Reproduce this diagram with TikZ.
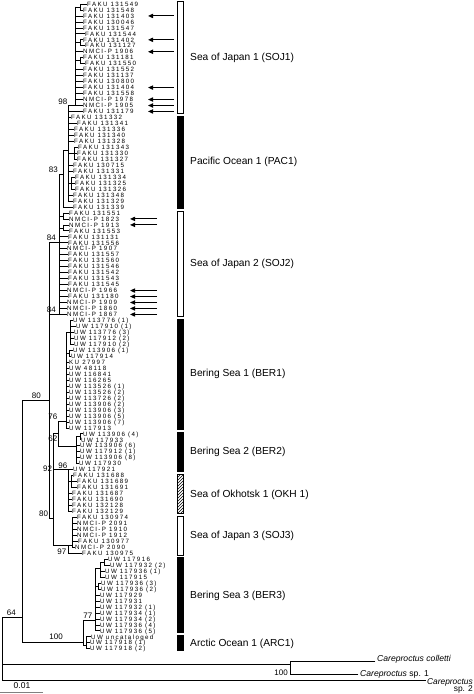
\documentclass[tikz,border=0pt]{standalone}
\usepackage{fontspec}
\setmainfont{Liberation Sans}
\newfontfamily\leaffam{Liberation Sans}[LetterSpace=22]
\usetikzlibrary{arrows.meta,patterns}
\pgfmathdeclarefunction{ly}{1}{\pgfmathparse{4+5.97*#1}}
\begin{document}
\begin{tikzpicture}[x=1pt,y=-1pt,
  br/.style={line width=0.75pt,line cap=rect},
  leaf/.style={anchor=west,inner sep=0pt,font=\leaffam\fontsize{6.2}{6.2}\selectfont,text height=4.4pt,text depth=0pt},
  bs/.style={anchor=south east,inner sep=0pt,font=\fontsize{8}{8}\selectfont},
  clade/.style={anchor=west,inner sep=0pt,font=\fontsize{10.2}{12}\selectfont},
  og/.style={inner sep=0pt,font=\fontsize{8.6}{9}\selectfont},
  bar/.style={draw=black,line width=0.6pt},
  arr/.style={-{Triangle[length=5pt,width=4.2pt]},line width=1.1pt},
]
\useasboundingbox (0,0) rectangle (474,694);

% ---------- leaves ----------
\foreach \i/\lx/\cx/\t in {
0/87/80/FAKU 131549, 1/83/80/FAKU 131548, 2/83/75/FAKU 131403, 3/83/75/FAKU 130046,
4/83/75/FAKU 131547, 5/85/75/FAKU 131544, 6/83/80/FAKU 131402, 7/85/80/FAKU 131127,
8/83/75/NMCI-P 1906, 9/83/80/FAKU 131181, 10/85/80/FAKU 131550, 11/83/75/FAKU 131552,
12/83/75/FAKU 131137, 13/83/75/FAKU 130800, 14/83/75/FAKU 131404, 15/83/75/FAKU 131558,
16/83/75/NMCI-P 1978, 17/83/75/NMCI-P 1905, 18/83/68/FAKU 131179,
19/71/68/FAKU 131332, 20/77/68/FAKU 131341, 21/74/68/FAKU 131336, 22/74/68/FAKU 131340,
23/74/68/FAKU 131328, 24/78/74/FAKU 131343, 25/77/74/FAKU 131330, 26/77/74/FAKU 131327,
27/73/68/FAKU 130715, 28/73/68/FAKU 131331, 29/75/71/FAKU 131334, 30/75/71/FAKU 131325,
31/75/71/FAKU 131326, 32/73/68/FAKU 131348, 33/73/68/FAKU 131329, 34/73/63/FAKU 131339,
35/69/63/FAKU 131551, 36/69/63/NMCI-P 1823, 37/69/63/NMCI-P 1913, 38/69/63/FAKU 131553,
39/68/59/FAKU 131131, 40/68/59/FAKU 131556, 41/67/59/NMCI-P 1907, 42/68/59/FAKU 131557,
43/68/59/FAKU 131560, 44/68/59/FAKU 131546, 45/68/59/FAKU 131542, 46/68/59/FAKU 131543,
47/68/59/FAKU 131545, 48/67/59/NMCI-P 1966, 49/68/59/FAKU 131180, 50/67/59/NMCI-P 1909,
51/67/59/NMCI-P 1860, 52/67/59/NMCI-P 1867,
53/73/70/UW 113776 (1), 54/76/70/UW 117910 (1), 55/74/70/UW 113776 (3), 56/74/70/UW 117912 (2),
57/74/70/UW 117910 (2), 58/73/69/UW 113906 (1), 59/71/69/UW 117914, 60/69/66/KU 27997,
61/69/66/UW 48118, 62/69/66/UW 116841, 63/69/66/UW 116265, 64/69/66/UW 113526 (1),
65/69/66/UW 113526 (2), 66/69/66/UW 113726 (2), 67/69/66/UW 113906 (2), 68/69/66/UW 113906 (3),
69/69/66/UW 113906 (5), 70/69/66/UW 113906 (7), 71/69/66/UW 117913,
72/83/80/UW 113906 (4), 73/81/80/UW 117933, 74/80/76/UW 113906 (6), 75/80/76/UW 117912 (1),
76/80/76/UW 113906 (8), 77/79/76/UW 117930, 78/73/68/UW 117921,
79/73/71/FAKU 131688, 80/77/71/FAKU 131689, 81/77/71/FAKU 131691, 82/72/68/FAKU 131687,
83/72/68/FAKU 131690, 84/72/68/FAKU 132128, 85/72/68/FAKU 132129,
86/77/72/FAKU 130974, 87/77/72/NMCI-P 2091, 88/77/72/NMCI-P 1910, 89/77/72/NMCI-P 1912,
90/78/72/FAKU 130977, 91/75/72/NMCI-P 2090, 92/82/68/FAKU 130975,
93/108/104/UW 117916, 94/110/104/UW 117932 (2), 95/105/100/UW 117936 (1), 96/105/100/UW 117915,
97/101/98/UW 117936 (3), 98/101/98/UW 117936 (2), 99/100/95/UW 117929, 100/100/95/UW 117931,
101/100/95/UW 117932 (1), 102/100/95/UW 117934 (1), 103/100/95/UW 117934 (2),
104/100/95/UW 117936 (4), 105/100/95/UW 117936 (5),
106/91/86/UW uncataloged, 107/90/86/UW 117918 (1), 108/90/86/UW 117918 (2)}{
  \node[leaf] (l\i) at (\lx,{ly(\i)}) {\t};
  \draw[br] (\cx,{ly(\i)}) -- ([xshift=-0.8pt]l\i.west);
}

% ---------- SOJ1 / PAC1 ----------
\draw[br] (75,{ly(0.5)}) -- (75,{ly(17)});
\draw[br] (80,{ly(0)}) -- (80,{ly(1)}) (75,{ly(0.5)}) -- (80,{ly(0.5)});
\draw[br] (80,{ly(6)}) -- (80,{ly(7)}) (75,{ly(6.5)}) -- (80,{ly(6.5)});
\draw[br] (80,{ly(9)}) -- (80,{ly(10)}) (75,{ly(9.5)}) -- (80,{ly(9.5)});
\draw[br] (68,{ly(17)}) -- (75,{ly(17)});
\node[bs] at (67.5,{ly(17)-1}) {98};
\draw[br] (68,{ly(17)}) -- (68,{ly(33)});
\draw[br] (74,{ly(24)}) -- (74,{ly(26)}) (68,{ly(25)}) -- (74,{ly(25)});
\draw[br] (71,{ly(29)}) -- (71,{ly(31)}) (68,{ly(30)}) -- (71,{ly(30)});
\draw[br] (63,150) -- (68,150) (63,150) -- (63,{ly(34)});
\draw[br] (59,174) -- (63,174);
\node[bs] at (58,172.5) {83};

% ---------- SOJ2 ----------
\draw[br] (59,174) -- (59,{ly(52)});
\draw[br] (63,{ly(35)}) -- (63,{ly(36)}) (59,{ly(35.5)}) -- (63,{ly(35.5)});
\draw[br] (63,{ly(37)}) -- (63,{ly(38)}) (59,{ly(37.5)}) -- (63,{ly(37.5)});
\draw[br] (49,242) -- (59,242);
\node[bs] at (56,240.5) {84};
\draw[br] (49,{ly(52)}) -- (59,{ly(52)});
\node[bs] at (56,{ly(52)-1.5}) {84};

% ---------- node 80 ----------
\draw[br] (49,242) -- (49,518);
\draw[br] (22,400) -- (49,400);
\node[bs] at (41,398.5) {80};

% ---------- BER1 / BER2 ----------
\draw[br] (66,{ly(55)}) -- (66,{ly(71)});
\draw[br] (70,{ly(53)}) -- (70,{ly(57)}) (66,{ly(55)}) -- (70,{ly(55)});
\draw[br] (69,{ly(58)}) -- (69,{ly(59)}) (66,{ly(58.5)}) -- (69,{ly(58.5)});
\draw[br] (58,421) -- (66,421);
\node[bs] at (57.5,419.5) {76};
\draw[br] (58,421) -- (58,446) (58,446) -- (76,446);
\node[bs] at (57.5,442) {62};
\draw[br] (76,{ly(72.5)}) -- (76,{ly(77)});
\draw[br] (80,{ly(72)}) -- (80,{ly(73)}) (76,{ly(72.5)}) -- (80,{ly(72.5)});
\draw[br] (53,433) -- (58,433);

% ---------- lower clade ----------
\draw[br] (53,433) -- (53,545);
\draw[br] (49,518) -- (53,518);
\node[bs] at (48.3,516.5) {80};
\draw[br] (53,{ly(78)}) -- (68,{ly(78)});
\node[bs] at (52.2,{ly(78)+2}) {92};
\node[bs] at (67.5,{ly(78)-1.2}) {96};
\draw[br] (68,{ly(78)}) -- (68,{ly(85)});
\draw[br] (71,{ly(79)}) -- (71,{ly(81)}) (68,{ly(80)}) -- (71,{ly(80)});
\draw[br] (53,545) -- (72,545);
\draw[br] (72,{ly(86)}) -- (72,{ly(91)});
\draw[br] (68,545) -- (68,{ly(92)});
\node[bs,anchor=east] at (66.5,552) {97};

% ---------- BER3 / ARC1 ----------
\draw[br] (83,620) -- (83,645);
\draw[br] (83,620) -- (95,620);
\node[bs] at (92.5,618.5) {77};
\draw[br] (95,{ly(94.5)}) -- (95,{ly(105)});
\draw[br] (100,{ly(93.5)}) -- (100,{ly(96)}) (95,{ly(94.5)}) -- (100,{ly(94.5)});
\draw[br] (104,{ly(93)}) -- (104,{ly(94)}) (100,{ly(93.5)}) -- (104,{ly(93.5)});
\draw[br] (98,{ly(97)}) -- (98,{ly(98)}) (95,{ly(97.5)}) -- (98,{ly(97.5)});
\draw[br] (86,{ly(106)}) -- (86,{ly(108)}) (83,645) -- (86,645);
\draw[br] (22,642) -- (83,642);
\node[bs] at (63,640) {100};

% ---------- root ----------
\draw[br] (22,400) -- (22,642);
\draw[br] (2,617) -- (22,617);
\node[bs] at (16,615.5) {64};
\draw[br] (2,617) -- (2,680);
\draw[br] (2,664) -- (290,664);
\draw[br] (290,661) -- (290,674);
\node[bs] at (288,675.5) {100};
\node[og,anchor=west,font=\fontsize{8.6}{9}\selectfont\itshape] (oc) at (377,659) {Careproctus colletti};
\draw[br] (290,661) -- (375,661);
\node[og,anchor=west] (o1) at (360,674.5) {\textit{Careproctus} sp. 1};
\draw[br] (290,674) -- (358,674);
\node[og,anchor=base east,font=\fontsize{8.4}{9}\selectfont\itshape] (o2) at (473,684.6) {Careproctus};
\node[og,anchor=base east,font=\fontsize{8.4}{9}\selectfont] (o2b) at (473,691.8) {sp. 2};
\draw[br] (2,680) -- ([xshift=-1.5pt]o2.west |- 0,680);

% scale bar
\draw[line width=1pt,gray] (0,692) -- (43,692);
\node[inner sep=0pt,font=\fontsize{8.5}{9}\selectfont] (sc) at (22,685.5) {0.01};

% ---------- bars ----------
\draw[bar,fill=white] (177.5,{ly(0)-3}) rectangle (183,{ly(18)+1.6});
\draw[bar,fill=black] (177.5,{ly(19)-1.6}) rectangle (183,{ly(34)+1.6});
\draw[bar,fill=white] (177.5,{ly(35)-1.6}) rectangle (183,{ly(52)+1.6});
\draw[bar,fill=black] (177.5,{ly(53)-1.6}) rectangle (183,{ly(71)+1.6});
\draw[bar,fill=black] (177.5,{ly(72)-1.6}) rectangle (183,{ly(78)+1.6});
\draw[bar,pattern=north east lines] (177.5,{ly(79)-1.6}) rectangle (183,{ly(85)+1.6});
\draw[bar,fill=white] (177.5,{ly(86)-1.6}) rectangle (183,{ly(92)+1.6});
\draw[bar,fill=black] (177.5,{ly(93)-1.6}) rectangle (183,{ly(105)+1.6});
\draw[bar,fill=black] (177.5,{ly(106)-1.6}) rectangle (183,{ly(108)+1.6});

\node[clade] (k1) at (190,57.5) {Sea of Japan 1 (SOJ1)};
\node[clade] (k2) at (190,162) {Pacific Ocean 1 (PAC1)};
\node[clade] (k3) at (190,263.7) {Sea of Japan 2 (SOJ2)};
\node[clade] (k4) at (190,374) {Bering Sea 1 (BER1)};
\node[clade] (k5) at (190,451.7) {Bering Sea 2 (BER2)};
\node[clade] (k6) at (190,494.5) {Sea of Okhotsk 1 (OKH 1)};
\node[clade] (k7) at (190,536) {Sea of Japan 3 (SOJ3)};
\node[clade] (k8) at (190,595.5) {Bering Sea 3 (BER3)};
\node[clade] (k9) at (190,644) {Arctic Ocean 1 (ARC1)};

% ---------- arrows ----------
\foreach \k in {2,6,8,14,16,17,18}{\draw[arr] (174,0 |- l\k) -- (148,0 |- l\k);}
\foreach \k in {36,37,48,49,50,51,52}{\draw[arr] (157,0 |- l\k) -- (130,0 |- l\k);}
\end{tikzpicture}
\end{document}
